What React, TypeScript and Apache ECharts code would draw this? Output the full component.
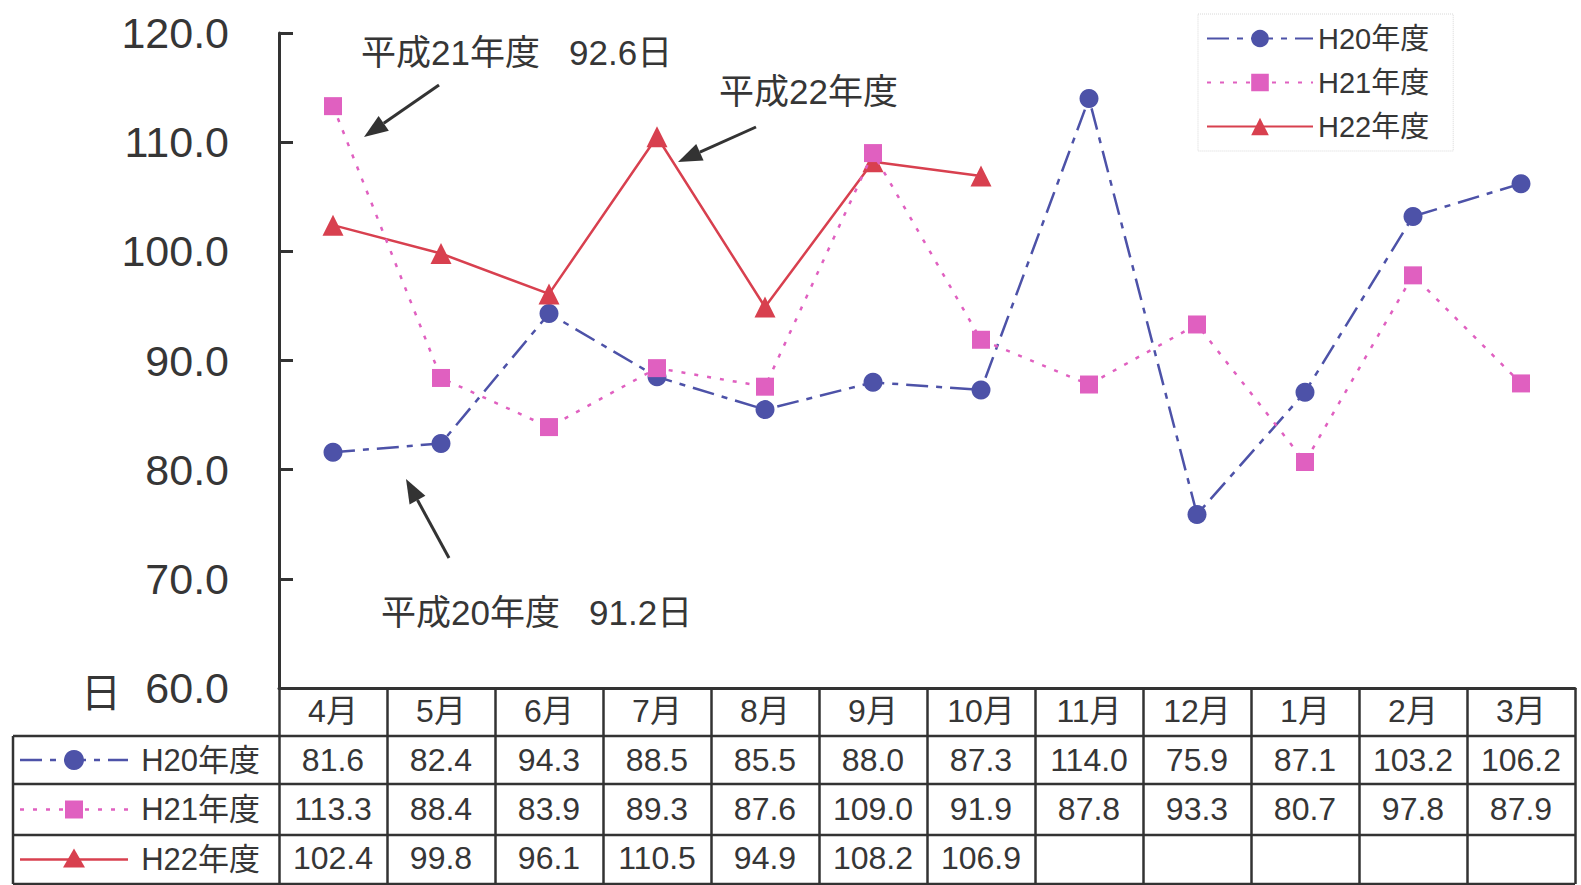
import React, { useEffect, useRef } from "react";
import * as echarts from "echarts";

const months = ["4月", "5月", "6月", "7月", "8月", "9月", "10月", "11月", "12月", "1月", "2月", "3月"];
const seriesNames = ["H20年度", "H21年度", "H22年度"];
const h20 = [81.6, 82.4, 94.3, 88.5, 85.5, 88.0, 87.3, 114.0, 75.9, 87.1, 103.2, 106.2];
const h21 = [113.3, 88.4, 83.9, 89.3, 87.6, 109.0, 91.9, 87.8, 93.3, 80.7, 97.8, 87.9];
const h22: (number | null)[] = [102.4, 99.8, 96.1, 110.5, 94.9, 108.2, 106.9, null, null, null, null, null];
const yMin = 60;
const yMax = 120;
const yStep = 10;
const unitLabel = "日";
const notes = ["平成21年度   92.6日", "平成22年度", "平成20年度   91.2日"];

const W = 1581;
const H = 885;
const gridLeft = 279;
const gridRight = 6;
const gridTop = 33;
const axisY = 688;
const rowH = [48, 48, 51, 49];
const tableLeft = 13;
const tableRight = W - gridRight;

const C20 = "#4d52a8";
const C21 = "#e060c0";
const C22 = "#d8404f";
const TXT = "#363636";
const NUMFONT = "'Liberation Sans Narrow', 'Arial Narrow', 'Liberation Sans', 'Noto Sans CJK JP', sans-serif";
const FONT = "'Liberation Sans', Arial, 'Noto Sans CJK JP', sans-serif";

const fmt = (v: number | null | undefined) => (v == null ? "" : v.toFixed(1));

function arrow(x1: number, y1: number, x2: number, y2: number) {
  const a = Math.atan2(y2 - y1, x2 - x1);
  const L = 24;
  const Wd = 9;
  const bx = x2 - L * Math.cos(a);
  const by = y2 - L * Math.sin(a);
  const px = -Math.sin(a) * Wd;
  const py = Math.cos(a) * Wd;
  return [
    { type: "line", shape: { x1, y1, x2: bx, y2: by }, style: { stroke: "#333", lineWidth: 3 } },
    {
      type: "polygon",
      shape: { points: [[x2, y2], [bx + px, by + py], [bx - px, by - py]] },
      style: { fill: "#333" },
    },
  ];
}

export default function App() {
  const ref = useRef<HTMLDivElement>(null);
  useEffect(() => {
    document.body.style.margin = "0";
    const chart = echarts.init(ref.current!, null, { renderer: "svg" });

    const rowTops: number[] = [];
    let acc = axisY;
    for (const h of rowH) {
      rowTops.push(acc);
      acc += h;
    }
    const tableBottom = acc;
    const rowCenters = rowH.map((h, i) => rowTops[i] + h / 2);

    const graphics: any[] = [];
    for (let i = 1; i <= rowH.length; i++) {
      const y = i === rowH.length ? tableBottom : rowTops[i];
      graphics.push({
        type: "line",
        shape: { x1: tableLeft, y1: y, x2: tableRight, y2: y },
        style: { stroke: "#333", lineWidth: 2.5 },
      });
    }
    graphics.push({
      type: "line",
      shape: { x1: tableLeft, y1: rowTops[1], x2: tableLeft, y2: tableBottom },
      style: { stroke: "#333", lineWidth: 2.5 },
    });
    const symX = 74;
    const lx1 = 20;
    const lx2 = 128;
    const rowStyles = [
      { color: C20, dash: [22, 8, 6, 8] },
      { color: C21, dash: [4, 9] },
      { color: C22, dash: null as any },
    ];
    seriesNames.forEach((name, i) => {
      const y = rowCenters[i + 1];
      const st = rowStyles[i];
      graphics.push({
        type: "line",
        shape: { x1: lx1, y1: y, x2: lx2, y2: y },
        style: { stroke: st.color, lineWidth: 2.5, lineDash: st.dash || undefined },
      });
      if (i === 0) graphics.push({ type: "circle", shape: { cx: symX, cy: y, r: 10 }, style: { fill: st.color } });
      if (i === 1) graphics.push({ type: "rect", shape: { x: symX - 9, y: y - 9, width: 18, height: 18 }, style: { fill: st.color } });
      if (i === 2)
        graphics.push({
          type: "polygon",
          shape: { points: [[symX, y - 11], [symX + 11, y + 8], [symX - 11, y + 8]] },
          style: { fill: st.color },
        });
      graphics.push({
        type: "text",
        x: 260,
        y,
        style: { text: name, fill: TXT, font: `31px ${FONT}`, align: "right", verticalAlign: "middle" },
      });
    });
    graphics.push({
      type: "text",
      x: 101,
      y: 690,
      style: { text: unitLabel, fill: TXT, font: `40px 'Noto Sans CJK JP', sans-serif`, align: "center", verticalAlign: "middle" },
    });
    const notePos = [
      [361, 52],
      [719, 91],
      [381, 612],
    ];
    notes.forEach((t, i) => {
      graphics.push({
        type: "text",
        x: notePos[i][0],
        y: notePos[i][1],
        style: { text: t, fill: TXT, font: `35px ${FONT}`, align: "left", verticalAlign: "middle" },
      });
    });
    graphics.push(...arrow(439, 85, 364, 137));
    graphics.push(...arrow(756, 127, 678, 162));
    graphics.push(...arrow(449, 558, 406, 479));

    chart.setOption({
      animation: false,
      backgroundColor: "#ffffff",
      grid: { left: gridLeft, right: gridRight, top: gridTop, bottom: H - axisY, containLabel: false },
      legend: {
        data: seriesNames,
        orient: "vertical",
        left: 1198,
        top: 14,
        padding: [10, 24, 10, 8],
        itemWidth: 106,
        itemHeight: 22,
        itemGap: 15,
        borderColor: "#d8d8d8",
        borderWidth: 1,
        borderType: "dotted",
        textStyle: { fontSize: 29, color: TXT, fontFamily: FONT, lineHeight: 28 },
      },
      xAxis: {
        type: "category",
        data: months,
        boundaryGap: true,
        axisLine: { lineStyle: { color: "#333", width: 3 } },
        axisTick: {
          show: true,
          interval: 0,
          inside: false,
          length: tableBottom - axisY,
          lineStyle: { color: "#333", width: 2.5 },
        },
        axisLabel: {
          interval: 0,
          margin: -2,
          lineHeight: 49,
          fontSize: 32,
          color: TXT,
          fontFamily: NUMFONT,
          formatter: (value: string, index: number) =>
            [value, fmt(h20[index]), fmt(h21[index]), fmt(h22[index])].join("\n"),
        },
        splitLine: { show: false },
      },
      yAxis: {
        type: "value",
        min: yMin,
        max: yMax,
        interval: yStep,
        axisLine: { show: true, lineStyle: { color: "#333", width: 3 } },
        axisTick: { show: true, inside: true, length: 14, lineStyle: { color: "#333", width: 3 } },
        axisLabel: {
          margin: 50,
          fontSize: 43,
          color: TXT,
          fontFamily: FONT,
          formatter: (v: number) => v.toFixed(1),
        },
        splitLine: { show: false },
      },
      series: [
        {
          name: seriesNames[0],
          type: "line",
          data: h20,
          symbol: "circle",
          symbolSize: 19,
          color: C20,
          itemStyle: { color: C20 },
          lineStyle: { color: C20, width: 2.5, type: [22, 8, 6, 8] },
          z: 3,
        },
        {
          name: seriesNames[1],
          type: "line",
          data: h21,
          symbol: "rect",
          symbolSize: 18,
          color: C21,
          itemStyle: { color: C21 },
          lineStyle: { color: C21, width: 2.5, type: [4, 9] },
          z: 4,
        },
        {
          name: seriesNames[2],
          type: "line",
          data: h22,
          symbol: "triangle",
          symbolSize: 21,
          color: C22,
          itemStyle: { color: C22 },
          lineStyle: { color: C22, width: 2.5 },
          connectNulls: false,
          z: 3,
        },
      ],
      graphic: graphics,
    });
    return () => chart.dispose();
  }, []);
  return <div ref={ref} style={{ position: "fixed", left: 0, top: 0, width: W, height: H, background: "#fff" }} />;
}
